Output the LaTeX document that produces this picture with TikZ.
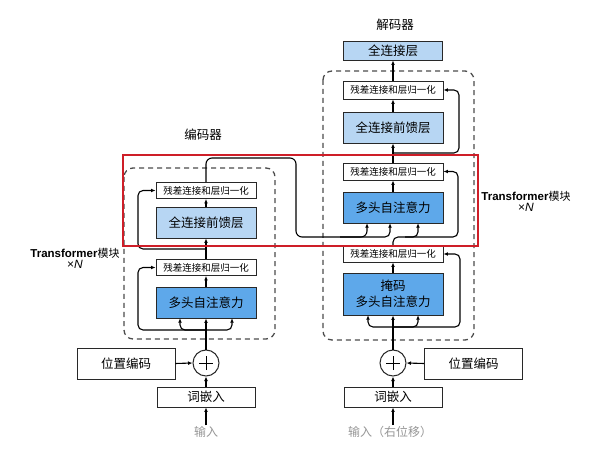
\documentclass[tikz,border=0pt]{standalone}
\usepackage{fontspec}
\setmainfont{Noto Sans CJK SC}
\newfontfamily\latf{Liberation Sans}
\usetikzlibrary{arrows.meta}
\definecolor{lblue}{RGB}{183,214,243}
\definecolor{mblue}{RGB}{94,168,234}
\definecolor{redbox}{RGB}{206,30,40}
\definecolor{boxline}{RGB}{40,40,40}
\definecolor{intxt}{RGB}{150,150,150}
\begin{document}
\begin{tikzpicture}[x=1pt,y=-1pt,
  bx/.style={draw=boxline,line width=0.9pt,inner sep=0pt,align=center},
  an/.style={bx,fill=white,minimum width=100pt,minimum height=16pt,font=\fontsize{9.5}{11}\selectfont},
  ffn/.style={bx,fill=lblue,minimum width=100pt,minimum height=31pt,font=\fontsize{12.5}{14}\selectfont},
  mha/.style={bx,fill=mblue,minimum width=100pt,minimum height=31pt,font=\fontsize{12.5}{14}\selectfont},
  pebox/.style={bx,fill=white,minimum width=98pt,minimum height=31pt,font=\fontsize{12.5}{14}\selectfont},
  embbox/.style={bx,fill=white,minimum width=98pt,minimum height=20pt,font=\fontsize{12.5}{14}\selectfont},
  addc/.style={circle,draw=boxline,line width=1pt,minimum size=26pt,inner sep=0pt,fill=white},
  intext/.style={text=intxt,inner sep=1pt,font=\fontsize{12}{14}\selectfont},
  ttl/.style={font=\fontsize{12.5}{14}\selectfont},
  conn/.style={draw=black,line width=1.1pt},
  arr/.style={conn,-{Latex[length=4.5pt,width=3.8pt]}},
  rc/.style={rounded corners=5pt},
  dblock/.style={draw=black!70,line width=1.3pt,dash pattern=on 5pt off 4pt,rounded corners=9pt}
]
\useasboundingbox (0,0) rectangle (600,465);

% dashed blocks
\draw[dblock] (124,168) rectangle (275,339);
\draw[dblock] (323,71) rectangle (474,340);

% ---------------- encoder ----------------
\node[ttl] (enc_lbl) at (203,135) {编码器};
\node[an] (enc_an2) at (206,190.5) {残差连接和层归一化};
\node[ffn] (enc_ffn) at (206,222.5) {全连接前馈层};
\node[an] (enc_an1) at (206,267.5) {残差连接和层归一化};
\node[mha] (enc_mha) at (206,302.5) {多头自注意力};
\node[addc] (enc_add) at (206,363) {};
\draw[line width=0.8pt] ([xshift=-7pt]enc_add.center) -- ([xshift=7pt]enc_add.center);
\draw[line width=0.8pt] ([yshift=-7pt]enc_add.center) -- ([yshift=7pt]enc_add.center);
\node[pebox] (enc_pe) at (126,363.5) {位置编码};
\node[embbox] (enc_emb) at (206,397) {词嵌入};
\node[intext] (enc_in) at (206,432) {输入};

\draw[arr] (enc_in.north) -- (enc_emb.south);
\draw[arr] (enc_emb.north) -- (enc_add.south);
\draw[arr] (enc_pe.east) -- (enc_add.west);
\draw[arr] (enc_add.north) -- (enc_mha.south);
\coordinate (ebr) at (206,330);
\coordinate (ek1) at (180,318.2);
\coordinate (ek2) at (232,318.2);
\coordinate (er1) at (138,300);
\draw[arr,rc] (ebr) -| (ek1);
\draw[arr,rc] (ebr) -| (ek2);
\draw[arr,rc] (ebr) -| (er1) |- (enc_an1.west);
\draw[arr] (enc_mha.north) -- (enc_an1.south);
\draw[arr] (enc_an1.north) -- (enc_ffn.south);
\coordinate (ebr2) at (206,249);
\coordinate (er2) at (138,230);
\draw[arr,rc] (ebr2) -| (er2) |- (enc_an2.west);
\draw[arr] (enc_ffn.north) -- (enc_an2.south);

% ---------------- decoder ----------------
\node[ttl] (dec_lbl) at (395,25) {解码器};
\node[bx,fill=lblue,minimum width=99pt,minimum height=19pt,font=\fontsize{12.5}{14}\selectfont] (dec_fc) at (393,50.5) {全连接层};
\node[an,minimum height=18pt] (dec_an3) at (393,90) {残差连接和层归一化};
\node[ffn] (dec_ffn) at (393,127.5) {全连接前馈层};
\node[an,minimum height=17pt] (dec_an2) at (393,171.5) {残差连接和层归一化};
\node[mha] (dec_mha) at (393,207.5) {多头自注意力};
\node[an] (dec_an1) at (393,254) {残差连接和层归一化};
\node[mha,minimum height=42pt,font=\fontsize{12.5}{16}\selectfont] (dec_mmha) at (393,294) {掩码\\多头自注意力};
\node[addc] (dec_add) at (393,363) {};
\draw[line width=0.8pt] ([xshift=-7pt]dec_add.center) -- ([xshift=7pt]dec_add.center);
\draw[line width=0.8pt] ([yshift=-7pt]dec_add.center) -- ([yshift=7pt]dec_add.center);
\node[pebox] (dec_pe) at (473.5,363.5) {位置编码};
\node[embbox] (dec_emb) at (393,397) {词嵌入};
\node[intext] (dec_in) at (390,432) {输入（右位移）};

\draw[arr] (dec_in.north -| dec_emb.south) -- (dec_emb.south);
\draw[arr] (dec_emb.north) -- (dec_add.south);
\draw[arr] (dec_pe.west) -- (dec_add.east);
\draw[arr] (dec_add.north) -- (dec_mmha.south);
\coordinate (dbr) at (393,327);
\coordinate (dk1) at (368,315.2);
\coordinate (dk2) at (418,315.2);
\coordinate (dr1) at (460,290);
\draw[arr,rc] (dbr) -| (dk1);
\draw[arr,rc] (dbr) -| (dk2);
\draw[arr,rc] (dbr) -| (dr1) |- (dec_an1.east);
\draw[arr] (dec_mmha.north) -- (dec_an1.south);
% query + residual into cross attention
\coordinate (dv1) at (405,237);
\coordinate (dq) at (418,223.2);
\coordinate (dr2) at (458,200);
\draw[arr,rc] (dec_an1.north) |- (dv1) -| (dq);
\draw[arr,rc] (dv1) -| (dr2) |- (dec_an2.east);
% encoder output to cross attention
\coordinate (eo1) at (206,158);
\coordinate (eo2) at (296,158);
\coordinate (eo3) at (296,237);
\coordinate (ck1) at (367,223.2);
\coordinate (ck2) at (390,223.2);
\coordinate (ej) at (340,237);
\draw[arr,rounded corners=6pt] (enc_an2.north) -- (eo1) -- (eo2) -- (eo3) -| (ck1);
\draw[arr,rc] (ej) -| (ck2);
\draw[arr] (dec_mha.north) -- (dec_an2.south);
\draw[arr] (dec_an2.north) -- (dec_ffn.south);
\coordinate (dbr3) at (393,153);
\coordinate (dr3) at (459,120);
\draw[arr,rc] (dbr3) -| (dr3) |- (dec_an3.east);
\draw[arr] (dec_ffn.north) -- (dec_an3.south);
\draw[arr] (dec_an3.north) -- (dec_fc.south);

% Transformer labels
\node[align=center,inner sep=0pt] (lab_l) at (75,258) {{\latf\bfseries\fontsize{11.5}{13}\selectfont Transformer}{\fontsize{11}{13}\selectfont 模块}\\[-1pt]{\latf\fontsize{12}{13}\selectfont ×\textit{N}}};
\node[align=center,inner sep=0pt] (lab_r) at (526,201) {{\latf\bfseries\fontsize{11.5}{13}\selectfont Transformer}{\fontsize{11}{13}\selectfont 模块}\\[-1pt]{\latf\fontsize{12}{13}\selectfont ×\textit{N}}};

% red highlight
\draw[redbox,line width=2.6pt] (123,155) rectangle (478,246);
\end{tikzpicture}
\end{document}
